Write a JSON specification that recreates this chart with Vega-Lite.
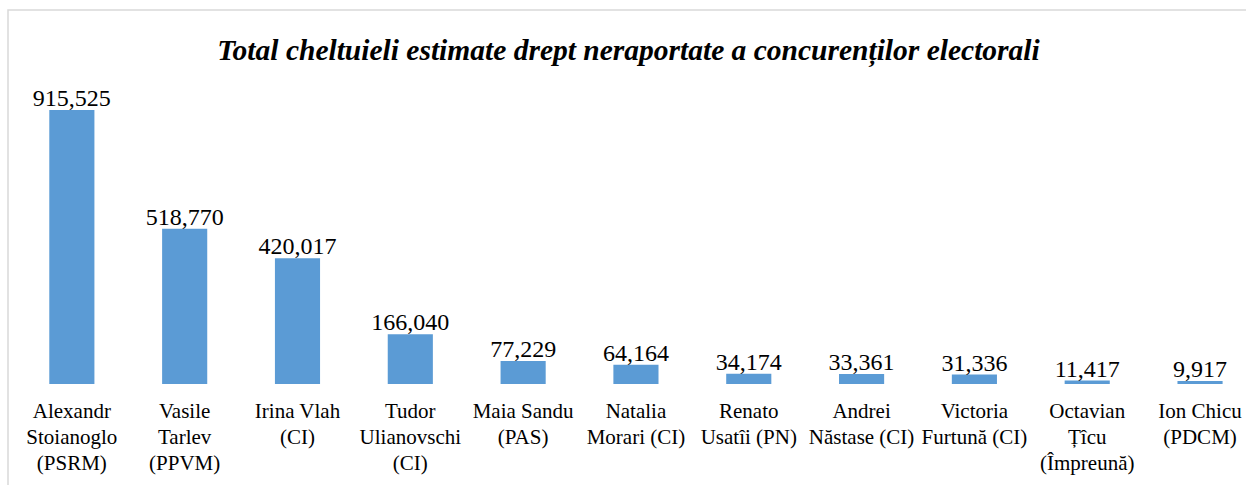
{
  "$schema": "https://vega.github.io/schema/vega-lite/v6.json",
  "width": 1241,
  "height": 478,
  "autosize": {"type": "none"},
  "padding": {"left": 8, "top": 10, "right": -3, "bottom": -3},
  "background": "white",
  "title": {
    "text": "Total cheltuieli estimate drept neraportate a concurenților electorali",
    "font": "Liberation Serif",
    "fontSize": 29.5,
    "fontWeight": "bold",
    "fontStyle": "italic",
    "color": "#000000",
    "anchor": "middle",
    "frame": "group",
    "baseline": "alphabetic",
    "offset": -79
  },
  "config": {
    "view": {"stroke": "#d9d9d9", "strokeWidth": 1.5},
    "axis": {"grid": false}
  },
  "data": {
    "values": [
      {"name": "Alexandr Stoianoglo (PSRM)", "lines": ["Alexandr", "Stoianoglo", "(PSRM)"], "value": 915525},
      {"name": "Vasile Tarlev (PPVM)", "lines": ["Vasile", "Tarlev", "(PPVM)"], "value": 518770},
      {"name": "Irina Vlah (CI)", "lines": ["Irina Vlah", "(CI)"], "value": 420017},
      {"name": "Tudor Ulianovschi (CI)", "lines": ["Tudor", "Ulianovschi", "(CI)"], "value": 166040},
      {"name": "Maia Sandu (PAS)", "lines": ["Maia Sandu", "(PAS)"], "value": 77229},
      {"name": "Natalia Morari (CI)", "lines": ["Natalia", "Morari (CI)"], "value": 64164},
      {"name": "Renato Usatîi (PN)", "lines": ["Renato", "Usatîi (PN)"], "value": 34174},
      {"name": "Andrei Năstase (CI)", "lines": ["Andrei", "Năstase (CI)"], "value": 33361},
      {"name": "Victoria Furtună (CI)", "lines": ["Victoria", "Furtună (CI)"], "value": 31336},
      {"name": "Octavian Țîcu (Împreună)", "lines": ["Octavian", "Țîcu", "(Împreună)"], "value": 11417},
      {"name": "Ion Chicu (PDCM)", "lines": ["Ion Chicu", "(PDCM)"], "value": 9917}
    ]
  },
  "encoding": {
    "x": {
      "field": "name",
      "type": "nominal",
      "sort": null,
      "axis": null,
      "scale": {"paddingInner": 0.6, "paddingOuter": 0.3, "align": 0.61}
    }
  },
  "layer": [
    {
      "mark": {"type": "bar", "color": "#5b9bd5"},
      "encoding": {
        "y": {
          "field": "value",
          "type": "quantitative",
          "axis": null,
          "scale": {"domain": [-347463, 1249534], "nice": false, "zero": false}
        },
        "y2": {"datum": 0}
      }
    },
    {
      "mark": {"type": "text", "font": "Liberation Serif", "fontSize": 24, "baseline": "alphabetic", "dy": -4, "color": "#000000"},
      "encoding": {
        "y": {"field": "value", "type": "quantitative"},
        "text": {"field": "value", "type": "quantitative", "format": ",d"}
      }
    },
    {
      "mark": {"type": "text", "font": "Liberation Serif", "fontSize": 21, "baseline": "top", "dy": 17, "lineHeight": 26, "color": "#000000"},
      "encoding": {
        "y": {"datum": 0},
        "text": {"field": "lines", "type": "nominal"}
      }
    }
  ]
}
